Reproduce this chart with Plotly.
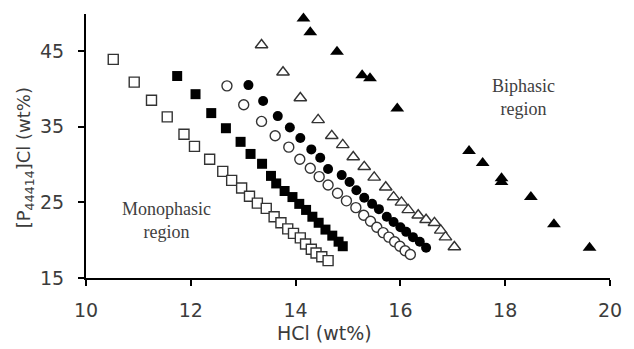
import plotly.graph_objects as go

# Open squares
sq_open_x = [10.52, 10.92, 11.25, 11.55, 11.87, 12.07, 12.36, 12.61, 12.78, 12.97, 13.12, 13.27,
             13.44, 13.59, 13.72, 13.85, 13.96, 14.09, 14.19, 14.30, 14.39, 14.50, 14.62]
sq_open_y = [43.9, 40.9, 38.5, 36.3, 34.0, 32.4, 30.7, 29.1, 27.9, 26.9, 25.8, 24.9,
             24.2, 23.1, 22.3, 21.5, 20.9, 20.3, 19.5, 18.8, 18.3, 17.8, 17.3]
# Filled squares
sq_fill_x = [11.74, 12.09, 12.39, 12.67, 12.95, 13.14, 13.36, 13.53, 13.63, 13.79, 13.94,
             14.07, 14.20, 14.32, 14.44, 14.57, 14.70, 14.82, 14.90]
sq_fill_y = [41.7, 39.3, 36.8, 34.8, 33.0, 31.4, 30.1, 28.5, 27.5, 26.5, 25.7,
             24.8, 24.0, 23.1, 22.3, 21.4, 20.6, 19.8, 19.2]
# Open circles
ci_open_x = [12.69, 13.01, 13.35, 13.61, 13.87, 14.08, 14.28, 14.45, 14.62, 14.80, 14.97,
             15.15, 15.30, 15.43, 15.55, 15.67, 15.78, 15.89, 15.99, 16.09, 16.19]
ci_open_y = [40.4, 37.9, 35.7, 33.8, 32.3, 30.7, 29.5, 28.4, 27.3, 26.2, 25.2,
             24.3, 23.3, 22.5, 21.7, 21.0, 20.4, 19.8, 19.2, 18.6, 18.1]
# Filled circles
ci_fill_x = [13.10, 13.38, 13.66, 13.89, 14.09, 14.30, 14.47, 14.62, 14.88, 15.03, 15.16,
             15.31, 15.46, 15.59, 15.74, 15.87, 16.00, 16.11, 16.24, 16.37, 16.49]
ci_fill_y = [40.5, 38.4, 36.4, 34.9, 33.5, 32.0, 30.9, 29.4, 28.6, 27.7, 26.6,
             25.6, 24.8, 24.1, 23.1, 22.4, 21.7, 21.1, 20.4, 19.8, 19.0]
# Open triangles
tr_open_x = [13.35, 13.76, 14.09, 14.43, 14.69, 14.90, 15.10, 15.31, 15.50, 15.72, 15.87,
             16.02, 16.15, 16.34, 16.49, 16.65, 16.77, 16.86, 17.03]
tr_open_y = [45.8, 42.2, 38.8, 35.9, 33.8, 32.6, 31.0, 29.7, 28.3, 27.0, 25.7,
             25.0, 24.0, 23.3, 22.7, 22.3, 21.3, 20.4, 19.1]
# Filled triangles
tr_fill_x = [14.15, 14.28, 14.79, 15.27, 15.42, 15.94, 17.31, 17.57, 17.93, 17.93, 18.49, 18.93, 19.61]
tr_fill_y = [49.3, 47.5, 44.9, 41.8, 41.4, 37.4, 31.8, 30.2, 28.2, 27.7, 25.7, 22.1, 19.0]

x_ticks = [10, 12, 14, 16, 18, 20]
y_ticks = [15, 25, 35, 45]
x_title = "HCl (wt%)"
y_title = "[P<sub>44414</sub>]Cl (wt%)"
label_mono = "Monophasic<br>region"
label_bi = "Biphasic<br>region"

LINE = "#333333"
TXT = "#3c3c3c"
SANS = "DejaVu Sans"
fig = go.Figure()

def add(x, y, symbol, filled, size):
    fig.add_trace(go.Scatter(
        x=x, y=y, mode="markers",
        marker=dict(symbol=symbol, size=size,
                    color="black" if filled else "white",
                    line=dict(color="black" if filled else LINE, width=0 if filled else 1.4)),
        showlegend=False, cliponaxis=False))

add(sq_open_x, sq_open_y, "square", False, 10)
add(sq_fill_x, sq_fill_y, "square", True, 10)
add(ci_open_x, ci_open_y, "circle", False, 10)
add(ci_fill_x, ci_fill_y, "circle", True, 10)
add(tr_open_x, tr_open_y, "triangle-up", False, 11)
add(tr_fill_x, tr_fill_y, "triangle-up", True, 12)

serif = dict(family="Liberation Serif", size=18, color="#404040")
fig.add_annotation(x=11.53, y=22.6, text=label_mono, showarrow=False, font=serif)
fig.add_annotation(x=18.34, y=38.8, text=label_bi, showarrow=False, font=serif)

fig.add_annotation(xref="paper", yref="paper", x=(330 - 86) / 535, y=-(333 - 278) / 264,
                   text=x_title, showarrow=False, font=dict(family=SANS, size=19, color=TXT),
                   xanchor="center", yanchor="middle")
fig.add_annotation(xref="paper", yref="paper", x=-(86 - 24) / 535, y=0.5, yshift=-12,
                   text=y_title, showarrow=False, font=dict(family=SANS, size=18, color=TXT),
                   textangle=-90, xanchor="center", yanchor="middle")

axis_common = dict(showline=True, linecolor="black", linewidth=2, ticks="outside",
                   ticklen=6, tickwidth=2, tickcolor="black", showgrid=False, zeroline=False,
                   mirror=False,
                   tickfont=dict(family=SANS, size=19, color=TXT))
fig.update_xaxes(range=[10, 20], tickvals=x_ticks, ticklabelstandoff=8, **axis_common)
fig.update_yaxes(range=[15, 49.9], tickvals=y_ticks, ticklabelstandoff=10, **axis_common)

fig.update_layout(width=634, height=349, margin=dict(l=86, r=13, t=14, b=71),
                  plot_bgcolor="white", paper_bgcolor="white")
fig.write_html("out.html")
